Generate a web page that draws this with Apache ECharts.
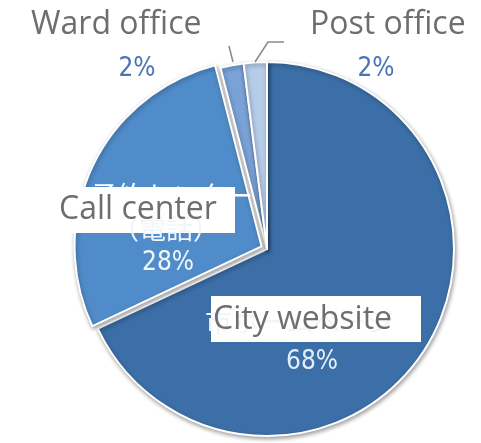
<!DOCTYPE html>
<html>
<head>
<meta charset="utf-8">
<script src="https://cdn.jsdelivr.net/npm/echarts@6/dist/echarts.min.js"></script>
<style>
  html, body { margin: 0; padding: 0; background: #fff; }
  #chart { width: 481px; height: 443px; }
</style>
</head>
<body>
<div id="chart"></div>
<script>
// slices, clockwise from 12 o'clock
const categories = ['City website', 'Call center', 'Ward office', 'Post office']
const shares = [68, 28, 2, 2]
const sliceColors = ['#3c6fa7', '#508cc9', '#7aa2d6', '#b6cce9']
// original Japanese labels, mostly covered by the English boxes
const jpCity = '市ホームページ'
const jpCall = ['予約センター', '（電話）']

const pct = i => shares[i] + '%'

const grey = '#6e6e6e'
const labelFont = "'Open Sans', sans-serif"
const pctFont = "'Liberation Sans Narrow', 'DejaVu Sans Condensed', sans-serif"
const jpFont = "'Noto Sans CJK JP', sans-serif"

function txt (x, y, text, size, color, family, align) {
  return {
    type: 'text',
    x: x,
    y: y,
    z: 100,
    style: {
      text: text,
      fill: color,
      font: size + 'px ' + family,
      align: align || 'center',
      verticalAlign: 'middle'
    }
  }
}

function box (x, y, w, h) {
  return { type: 'rect', z: 99, shape: { x: x, y: y, width: w, height: h }, style: { fill: '#fff' } }
}

function leader (points) {
  return { type: 'polyline', z: 100, shape: { points: points }, style: { stroke: '#8a8a8a', lineWidth: 1.5, fill: null } }
}

const chart = echarts.init(document.getElementById('chart'))

chart.setOption({
  backgroundColor: '#fff',
  animation: false,
  series: [{
    type: 'pie',
    center: [267, 249],
    radius: 187,
    startAngle: 90,
    clockwise: true,
    selectedMode: 'single',
    selectedOffset: 6,
    label: { show: false },
    labelLine: { show: false },
    emphasis: { disabled: true },
    itemStyle: {
      borderColor: '#fff',
      borderWidth: 2,
      shadowBlur: 4,
      shadowOffsetX: 1,
      shadowOffsetY: 2,
      shadowColor: 'rgba(0,0,0,0.35)'
    },
    data: categories.map((name, i) => ({
      name: name,
      value: shares[i],
      selected: name === 'Call center',
      itemStyle: { color: sliceColors[i] }
    }))
  }],
  graphic: [
    // Japanese text peeking out from under the boxes
    txt(172, 196, jpCall[0], 27, '#fff', jpFont),
    txt(166, 229, jpCall[1], 27, '#f0f5fb', jpFont),
    txt(205, 322, jpCity, 27, '#f0f5fb', jpFont, 'left'),

    box(57, 187, 178, 46),
    txt(59, 210, categories[1], 32, grey, labelFont, 'left'),
    box(211, 296, 210, 46),
    txt(213, 320, categories[0], 32, grey, labelFont, 'left'),

    txt(31, 25, categories[2], 32, grey, labelFont, 'left'),
    txt(310, 25, categories[3], 32, grey, labelFont, 'left'),

    txt(137, 69, pct(2), 26, '#4a74b4', pctFont),
    txt(376, 69, pct(3), 26, '#4a74b4', pctFont),
    txt(168, 263, pct(1), 26, '#f2f7fc', pctFont),
    txt(312, 362, pct(0), 26, '#e3eef9', pctFont),

    leader([[233, 62], [229, 46]]),
    leader([[255, 62], [268, 42], [284, 42]])
  ]
})
</script>
</body>
</html>
